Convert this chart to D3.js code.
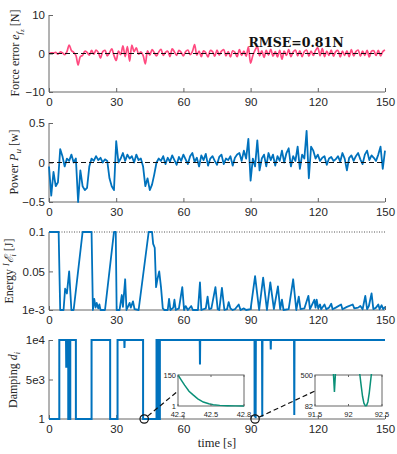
<!DOCTYPE html>
<html><head><meta charset="utf-8">
<script src="https://cdn.jsdelivr.net/npm/d3@7"></script>
<style>body{margin:0;background:#fff}svg{display:block}</style>
</head><body>
<svg id="c" width="397" height="454"></svg>
<script>
// ---------- DATA ----------
const xTicks = [0, 30, 60, 90, 120, 150];
const forceTicks = [-10, 0, 10];
const powerTicks = [-0.5, 0, 0.5];
const energyTicks = [0.001, 0.05, 0.1];
const energyTickLabels = ["1e-3", "0.05", "0.1"];
const dampTicks = [1, 5000, 10000];
const dampTickLabels = ["1", "5e3", "1e4"];
const sampleStep = 1; // s

const forceError = [0,0.2,0.1,0.3,-0.2,0.4,0.2,-0.3,0.5,2.2,0.8,0.3,-0.5,-3,-0.8,-0.5,0.6,0.3,-0.4,0.8,
 -0.2,0.9,0.3,-1.2,0.5,0.8,-0.6,0.2,1.2,-0.5,-1.8,0.6,-0.3,2,-0.8,1.8,-2,2.2,0.5,1.5,
 -0.2,0.4,-0.5,-2.7,0.7,-0.4,1,0.2,-0.6,0.4,1.1,-0.5,0.3,0.6,-0.8,1.2,0.4,-0.5,0.8,0.3,
 -0.6,0.5,0.9,-0.3,0.5,2.3,-0.4,0.6,-0.8,0.7,0.2,-0.9,0.8,0.5,-0.7,0.9,-0.4,0.6,1,-0.6,
 0.5,-0.9,0.7,0.3,-0.8,1,-0.5,0.6,-0.7,1.7,-2.5,-0.5,0.9,1.8,-0.6,0.7,-1,0.8,-0.4,1.1,
 -0.7,0.5,-0.9,0.8,-1.5,0.6,-0.5,1,-0.8,0.4,0.9,-0.6,0.7,-0.8,0.5,0.9,-0.7,0.6,-0.5,0.8,
 1.5,-0.6,1.3,-0.8,0.6,-0.5,0.9,-0.7,0.5,0.8,-0.9,0.6,-0.5,0.7,-0.8,1,-0.6,0.5,0.9,-0.7,
 0.6,-0.5,0.8,-0.9,0.6,0.7,-0.5,0.8,-0.6,0.5,0.9];

const power = [-0.05,-0.42,-0.12,-0.3,-0.25,0.17,0.08,-0.05,0.05,0.02,0.1,0,0.05,-0.5,-0.1,-0.3,-0.35,-0.32,-0.05,0.05,
 0.02,0.08,0.03,0.06,0,0.04,0.02,-0.2,-0.3,-0.35,0.27,0,0.05,0.12,0.02,0.1,0.05,0.08,0,0.1,
 0.03,0.05,-0.05,-0.3,-0.2,-0.35,-0.28,-0.15,0,0.05,0.02,0.08,-0.02,0.06,0.01,0.09,0.03,-0.03,0.07,0.02,
 0.1,0.04,-0.02,0.08,0.12,0.01,0.06,-0.05,0.09,0.03,0.11,-0.04,0.05,0.08,0.02,-0.03,0.07,0.1,-0.02,0.05,
 0.03,0.08,-0.04,0.06,0.1,0.12,0.02,0.15,0.05,0.3,-0.23,0.05,-0.05,0.28,-0.1,0.05,0.1,-0.05,0.12,0.03,
 0.1,-0.04,0.08,0.02,0.15,0.0,0.12,0.18,-0.05,0.08,0.02,0.2,-0.08,0.1,0.05,0.4,-0.2,0.2,0.15,0.05,
 0.1,0.02,0.06,0.08,-0.03,0.05,0.07,0.02,0.04,0.08,0.01,0.12,0.05,-0.1,0.06,0.09,0.02,0.08,0.12,0.04,
 -0.02,0.1,0.15,0.03,0.09,0.06,0.02,0.1,0.2,-0.08,0.15];

const energy = [[0,0.1],[4.3,0.1],[5,0.001],[6.5,0.001],[7.2,0.028],[8,0.022],[9,0.05],[10,0.001],[11,0.001],[15,0.1],
 [19,0.1],[19.6,0.001],[20.2,0.015],[20.8,0.004],[21.3,0.01],[22,0.003],[22.5,0.008],[23,0.001],[25,0.001],[29,0.1],
 [29.8,0.1],[30.2,0.001],[31.5,0.001],[32.5,0.02],[33,0.005],[34,0.04],[34.6,0.001],[36,0.01],[36.5,0.004],[37.5,0.012],
 [38.2,0.002],[40,0.001],[44.5,0.1],[46,0.1],[46.5,0.085],[47.2,0.08],[47.8,0.03],[48.4,0.04],[49.2,0.05],[50,0.03],
 [50.8,0.003],[51.5,0.001],[53,0.001],[53.6,0.015],[54.2,0.001],[55.5,0.004],[56,0.014],[56.6,0.001],[58,0.003],[59.5,0.03],
 [60.3,0.001],[61,0.006],[62,0.001],[63.5,0.006],[64.2,0.001],[66.5,0.001],[67.4,0.036],[68,0.001],[70,0.003],[70.8,0.018],
 [71.5,0.002],[72.5,0.003],[74.3,0.03],[75.3,0.002],[76,0.001],[77.2,0.029],[78.3,0.001],[79.5,0.002],[80.2,0.011],[81,0.003],
 [82,0.001],[83,0.002],[84.7,0.008],[85.5,0.001],[87,0.003],[88,0.001],[90,0.002],[92,0.044],[93.8,0.001],[95.6,0.042],
 [97.3,0.001],[98.8,0.036],[100.4,0.002],[102.2,0.031],[103.2,0.002],[104,0.014],[104.7,0.001],[107,0.002],[109,0.04],[110.4,0.001],
 [111.5,0.018],[112.3,0.002],[114,0.003],[115.8,0.019],[116.5,0.002],[117.5,0.008],[118.5,0.014],[119,0.004],[119.5,0.014],[120.2,0.003],
 [121,0.008],[121.5,0.002],[123,0.008],[123.8,0.002],[125,0.004],[126,0.009],[126.6,0.002],[128,0.004],[130.4,0.008],[131,0.002],
 [133,0.005],[135.6,0.008],[136.3,0.003],[138,0.004],[139,0.006],[140,0.002],[141.2,0.019],[142,0.002],[142.8,0.006],[144,0.022],
 [144.8,0.002],[146,0.004],[147,0.008],[147.6,0.002],[148.5,0.007],[149.2,0.002],[150,0.005]];

const damping = [[0,1],[4.6,1],[4.6,1e4],[7.6,1e4],[7.7,6500],[7.9,1e4],[8.1,6500],[8.3,1e4],[8.6,1e4],[8.6,1],
 [9.5,1],[9.5,1e4],[12,1e4],[12,1],[19,1],[19,1e4],[27.3,1e4],[27.3,1],[30.6,1],[30.6,1e4],
 [33.6,1e4],[33.7,9000],[33.8,1e4],[42,1e4],[42,1],[48,1],[48,1e4],[48.2,1e4],[48.2,1],[48.4,1],
 [48.4,1e4],[48.7,1e4],[48.7,1],[48.9,1],[48.9,1e4],[49.3,1e4],[49.3,1],[49.5,1],[49.5,1e4],[67.3,1e4],
 [67.4,6900],[67.5,1e4],[91.75,1e4],[91.79,270],[91.83,1e4],[92.17,1e4],[92.25,82],[92.34,1e4],[95.1,1e4],[95.2,300],
 [95.3,1e4],[98.9,1e4],[99,8800],[99.1,1e4],[109.4,1e4],[109.5,500],[109.6,1e4],[150,1e4]];

const inset1 = [[42.2,150],[42.23,125],[42.26,101],[42.3,72],[42.34,53],[42.38,35],[42.43,20],[42.48,12],[42.52,7.5],
 [42.58,4],[42.65,2.5],[42.72,1.6],[42.8,1.2]];
const inset1X = [42.2, 42.5, 42.8], inset1Y = [1, 150];
const inset2 = [[91.5,600],[91.77,600],[91.79,270],[91.81,600],[92.15,600],[92.17,500],[92.19,350],[92.21,210],[92.23,120],
 [92.25,86],[92.27,88],[92.29,140],[92.31,260],[92.33,420],[92.34,500],[92.36,600],[92.5,600]];
const inset2X = [91.5, 92, 92.5], inset2Y = [82, 500];
const inset2XLabels = ["91.5", "92", "92.5"];

// ---------- DRAW ----------
const svg = d3.select("#c");
const L = 49, R = 385;
const x = d3.scaleLinear().domain([0,150]).range([L,R]);
const axisCol = "#666", textCol = "#262626";
const tickFont = "Liberation Sans, Arial, sans-serif";
const serif = "Liberation Serif, Times New Roman, serif";

function panel(top, bottom, domain, ticks, labels) {
  const y = d3.scaleLinear().domain(domain).range([bottom, top]);
  const g = svg.append("g");
  const xa = d3.axisBottom(x).tickValues(xTicks).tickSize(-4).tickPadding(6).tickFormat(d3.format("d"));
  const gx = g.append("g").attr("transform", `translate(0,${bottom})`).call(xa);
  const ya = d3.axisLeft(y).tickValues(ticks).tickSize(-4).tickPadding(4)
     .tickFormat((d,i) => labels ? labels[i] : d3.format("")(d));
  const gy = g.append("g").attr("transform", `translate(${L},0)`).call(ya);
  [gx, gy].forEach(a => {
    a.select(".domain").attr("stroke", axisCol).attr("d", a === gx ? `M${L},0H${R}` : `M0,${bottom}V${top}`);
    a.selectAll(".tick line").attr("stroke", axisCol);
    a.selectAll("text").attr("fill", textCol).style("font-family", tickFont).style("font-size", "11.5px");
  });
  return {y, g};
}

function ylabel(cx, cy, parts) {
  const t = svg.append("text").attr("transform", `translate(${cx},${cy}) rotate(-90)`)
    .attr("text-anchor", "middle").style("font-family", serif).style("font-size", "12px").attr("fill", textCol);
  parts.forEach(p => {
    const s = t.append("tspan").text(p.t);
    if (p.i) s.style("font-style", "italic");
    if (p.fs) s.style("font-size", p.fs);
    if (p.dy) s.attr("dy", p.dy);
  });
}

// Panel 1: force error
const p1 = panel(15, 92, [-10,10], forceTicks);
p1.g.append("path").datum(forceError)
  .attr("d", d3.line().x((d,i) => x(i*sampleStep)).y(d => p1.y(d)).curve(d3.curveCatmullRom))
  .attr("fill","none").attr("stroke","#ff4a80").attr("stroke-width",1.7);
p1.g.append("line").attr("x1",x(0)).attr("x2",x(150)).attr("y1",p1.y(0)).attr("y2",p1.y(0))
  .attr("stroke","#111").attr("stroke-width",1.2).attr("stroke-dasharray","5,3");
svg.append("text").attr("x",296).attr("y",47).attr("text-anchor","middle")
  .style("font-family","DejaVu Serif, serif").style("font-weight","bold").style("font-size","12.5px")
  .attr("fill","#111").text("RMSE=0.81N");
ylabel(19, 53, [{t:"Force error "},{t:"e",i:1},{t:"f",i:1,fs:"9px",dy:3},{t:"z",i:1,fs:"7px",dy:2},{t:" [N]",dy:-5}]);

// Panel 2: power
const p2 = panel(123, 202, [-0.5,0.5], powerTicks);
p2.g.append("path").datum(power)
  .attr("d", d3.line().x((d,i) => x(i*sampleStep)).y(d => p2.y(d)))
  .attr("fill","none").attr("stroke","#0072BD").attr("stroke-width",1.8).attr("stroke-linejoin","round");
p2.g.append("line").attr("x1",x(0)).attr("x2",x(150)).attr("y1",p2.y(0)).attr("y2",p2.y(0))
  .attr("stroke","#111").attr("stroke-width",1.2).attr("stroke-dasharray","5,3");
ylabel(18, 162, [{t:"Power "},{t:"P",i:1},{t:"u",i:1,fs:"9px",dy:3},{t:" [w]",dy:-3}]);

// Panel 3: energy
const p3 = panel(232, 310, [0.001,0.1], energyTicks, energyTickLabels);
p3.g.append("line").attr("x1",x(0)).attr("x2",x(150)).attr("y1",p3.y(0.1)).attr("y2",p3.y(0.1))
  .attr("stroke","#555").attr("stroke-width",1).attr("stroke-dasharray","1,1.5");
p3.g.append("path").datum(energy)
  .attr("d", d3.line().x(d => x(d[0])).y(d => p3.y(d[1])))
  .attr("fill","none").attr("stroke","#0072BD").attr("stroke-width",1.8).attr("stroke-linejoin","round");
ylabel(13, 271, [{t:"Energy "},{t:"I",i:1,fs:"8px",dy:-4},{t:"ℰ",i:1,dy:4},{t:"i",i:1,fs:"8px",dy:3},{t:" [J]",dy:-3}]);

// Panel 4: damping
const p4 = panel(340, 419, [1,1e4], dampTicks, dampTickLabels);
p4.g.append("path").datum(damping)
  .attr("d", d3.line().x(d => x(d[0])).y(d => p4.y(d[1])))
  .attr("fill","none").attr("stroke","#0072BD").attr("stroke-width",2);
ylabel(17, 380, [{t:"Damping "},{t:"d",i:1},{t:"i",i:1,fs:"8px",dy:3}]);
svg.append("text").attr("x",217).attr("y",447).attr("text-anchor","middle")
  .style("font-family",serif).style("font-size","12.5px").attr("fill",textCol).text("time [s]");

// Insets
function inset(id, box, data, xd, yd, xt, xl, circX, lineTo) {
  const ix = d3.scaleLinear().domain([xd[0], xd[xd.length-1]]).range([box.x0, box.x1]);
  const iy = d3.scaleLinear().domain(yd).range([box.y1, box.y0]);
  const g = svg.append("g");
  g.append("rect").attr("x",box.x0).attr("y",box.y0).attr("width",box.x1-box.x0).attr("height",box.y1-box.y0)
    .attr("fill","#fff").attr("stroke",axisCol).attr("stroke-width",1);
  g.append("clipPath").attr("id",id).append("rect").attr("x",box.x0).attr("y",box.y0-1)
    .attr("width",box.x1-box.x0).attr("height",box.y1-box.y0+2);
  g.append("path").datum(data).attr("clip-path",`url(#${id})`)
    .attr("d", d3.line().x(d => ix(d[0])).y(d => iy(d[1])))
    .attr("fill","none").attr("stroke","#0a9078").attr("stroke-width",1.5);
  xt.forEach((v,i) => {
    g.append("line").attr("x1",ix(v)).attr("x2",ix(v)).attr("y1",box.y1).attr("y2",box.y1-2).attr("stroke",axisCol);
    g.append("line").attr("x1",ix(v)).attr("x2",ix(v)).attr("y1",box.y0).attr("y2",box.y0+2).attr("stroke",axisCol);
    g.append("text").attr("x",ix(v)).attr("y",box.y1+11).attr("text-anchor","middle")
      .style("font-family",tickFont).style("font-size","7.5px").attr("fill",textCol).text(xl ? xl[i] : v);
  });
  yd.forEach(v => {
    g.append("text").attr("x",box.x0-2).attr("y",iy(v)+2.5).attr("text-anchor","end")
      .style("font-family",tickFont).style("font-size","7.5px").attr("fill",textCol).text(v);
  });
  const cx = x(circX), cy = p4.y(1);
  svg.append("circle").attr("cx",cx).attr("cy",cy).attr("r",4.2).attr("fill","none").attr("stroke","#111").attr("stroke-width",1.2);
  const ang = Math.atan2(lineTo[1]-cy, lineTo[0]-cx);
  svg.append("line").attr("x1",cx+4.5*Math.cos(ang)).attr("y1",cy+4.5*Math.sin(ang))
    .attr("x2",lineTo[0]).attr("y2",lineTo[1]).attr("stroke","#111").attr("stroke-width",1.2).attr("stroke-dasharray","5,3");
}
inset("cl1", {x0:178, x1:244, y0:375, y1:406}, inset1, inset1X, inset1Y, inset1X, null, 42.5, [178, 391]);
inset("cl2", {x0:315, x1:382, y0:375, y1:406}, inset2, inset2X, inset2Y, inset2X, inset2XLabels, 92, [315, 391]);
</script>
</body></html>
